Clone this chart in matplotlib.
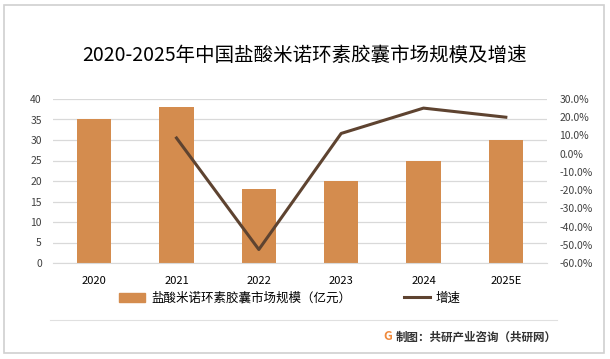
import matplotlib
matplotlib.use('Agg')
import matplotlib.pyplot as plt
from matplotlib.patches import Rectangle
from matplotlib.lines import Line2D
from matplotlib.ticker import FuncFormatter

plt.rcParams['font.family'] = ['Noto Sans CJK SC', 'DejaVu Sans']

years = ['2020', '2021', '2022', '2023', '2024', '2025E']
market = [35, 38, 18, 20, 25, 30]
growth = [None, 8.6, -52.6, 11.1, 25.0, 20.0]

bar_color = '#D48C4E'
line_color = '#5E4330'
grid_color = '#D9D9D9'
text_color = '#404040'

fig = plt.figure(figsize=(6.10, 3.59), dpi=100)
fig.patches.append(Rectangle((0.006, 0.017), 0.984, 0.97, transform=fig.transFigure,
                             fill=False, edgecolor='#D0D0D0', linewidth=1.2))

ax = fig.add_axes([53 / 610, 1 - 263 / 359, 494 / 610, 164 / 359])
x = list(range(len(years)))
ax.bar(x, market, width=0.42, color=bar_color, zorder=2)
ax.set_ylim(0, 40)
ax.set_yticks(range(0, 41, 5))
ax.set_xlim(-0.5, len(years) - 0.5)
ax.set_xticks(x)
ax.set_xticklabels(years, fontsize=8, color='black')
ax.tick_params(axis='x', length=0, pad=9)
ax.tick_params(axis='y', length=0, labelsize=7.5, labelcolor=text_color, pad=8)
ax.grid(axis='y', color=grid_color, linewidth=0.9, zorder=0)
for s in ax.spines.values():
    s.set_visible(False)
ax.spines['bottom'].set_visible(True)
ax.spines['bottom'].set_color(grid_color)

ax2 = ax.twinx()
gx = [i for i, g in enumerate(growth) if g is not None]
gy = [g for g in growth if g is not None]
ax2.plot(gx, gy, color=line_color, linewidth=2.2, zorder=3)
ax2.set_ylim(-60, 30)
ax2.set_yticks(range(-60, 31, 10))
ax2.yaxis.set_major_formatter(FuncFormatter(lambda v, p: f'{v:.1f}%'))
ax2.tick_params(axis='y', length=0, labelsize=7.5, labelcolor=text_color, pad=9)
for s in ax2.spines.values():
    s.set_visible(False)

fig.text(0.5, 1 - 55 / 359, '2020-2025年中国盐酸米诺环素胶囊市场规模及增速',
         ha='center', va='center', fontsize=14, color='black')

handles = [Rectangle((0, 0), 1, 1, color=bar_color),
           Line2D([0], [0], color=line_color, linewidth=2.2)]
fig.legend(handles, ['盐酸米诺环素胶囊市场规模（亿元）', '增速'],
           loc='center', bbox_to_anchor=(0.475, 1 - 298 / 359), ncol=2,
           frameon=False, fontsize=9, columnspacing=4.2, handlelength=2.1,
           handleheight=0.7, handletextpad=0.5)

fig.add_artist(Line2D([50 / 610, 557 / 610], [1 - 320 / 359, 1 - 320 / 359],
                      transform=fig.transFigure, color='#E0E0E0', linewidth=0.8))
fig.text(388 / 610, 1 - 337 / 359, 'G', ha='center', va='center', fontsize=9,
         color='#F08A3C', fontweight='bold')
fig.text(557 / 610, 1 - 337 / 359, '制图：共研产业咨询（共研网）', ha='right', va='center',
         fontsize=8.3, color='#333333', fontweight='bold')

fig.savefig('out.png', dpi=100)
